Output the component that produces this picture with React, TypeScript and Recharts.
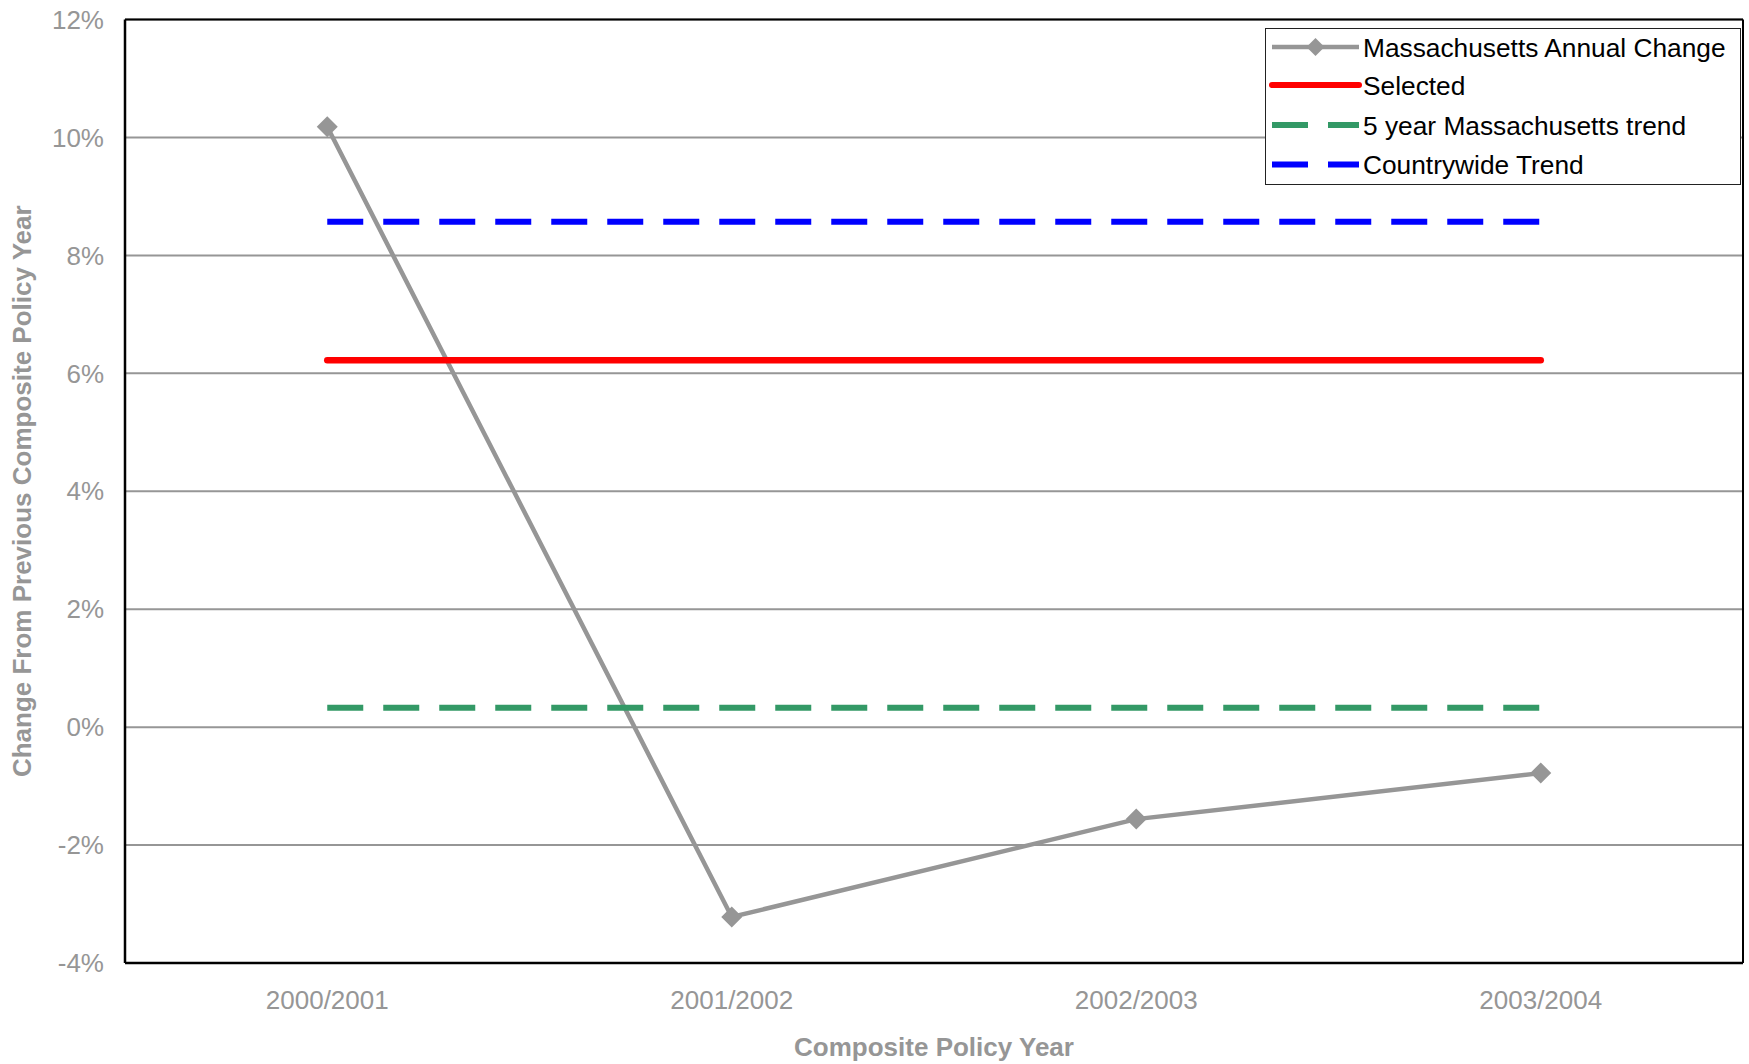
import React from 'react';
import { LineChart, Line, XAxis, YAxis, CartesianGrid, Legend } from 'recharts';

// Composite policy years on the category axis
const policyYears = ['2000/2001', '2001/2002', '2002/2003', '2003/2004'];

// Year-over-year change, in percent
const massachusettsAnnualChange = [10.18, -3.22, -1.56, -0.78];
const selectedTrend = [6.22, 6.22, 6.22, 6.22];
const fiveYearMassachusettsTrend = [0.33, 0.33, 0.33, 0.33];
const countrywideTrend = [8.57, 8.57, 8.57, 8.57];

const yTicks = [-4, -2, 0, 2, 4, 6, 8, 10, 12];

const seriesNames = {
  annual: 'Massachusetts Annual Change',
  selected: 'Selected',
  fiveYear: '5 year Massachusetts trend',
  countrywide: 'Countrywide Trend',
};
const legendOrder = [seriesNames.annual, seriesNames.selected, seriesNames.fiveYear, seriesNames.countrywide];

const rows = policyYears.map((year, i) => ({
  year,
  annual: massachusettsAnnualChange[i],
  selected: selectedTrend[i],
  fiveYear: fiveYearMassachusettsTrend[i],
  countrywide: countrywideTrend[i],
}));

const FONT = '"Liberation Sans", Arial, Helvetica, sans-serif';
const GREY = '#969696';
const RED = '#FF0000';
const GREEN = '#339966';
const BLUE = '#0000FF';

const W = 1749;
const H = 1064;
const PLOT_LEFT = 125;
const PLOT_TOP = 19.5;
const PLOT_RIGHT = 1743;
const PLOT_BOTTOM = 963;

const DIAMOND_HALF = 10.5;

const Diamond = (props: any) => {
  const { cx, cy } = props;
  if (cx == null || cy == null) return null;
  const r = DIAMOND_HALF;
  return (
    <polygon
      key={`d-${props.index}`}
      points={`${cx},${cy - r} ${cx + r},${cy} ${cx},${cy + r} ${cx - r},${cy}`}
      fill={GREY}
      stroke="none"
    />
  );
};

const legendStyles: Record<string, { color: string; width: number; dash?: string; round?: boolean; marker?: boolean }> = {
  [seriesNames.annual]: { color: GREY, width: 4.5, marker: true },
  [seriesNames.selected]: { color: RED, width: 6, round: true },
  [seriesNames.fiveYear]: { color: GREEN, width: 6, dash: '36 20' },
  [seriesNames.countrywide]: { color: BLUE, width: 6, dash: '36 20' },
};

const LegendBox = (props: any) => {
  const payload = [...(props.payload || [])].sort(
    (a: any, b: any) => legendOrder.indexOf(a.value) - legendOrder.indexOf(b.value)
  );
  const boxW = 476;
  const boxH = 157;
  const rowY = [19, 57, 97, 136.5];
  return (
    <svg width={boxW} height={boxH} style={{ display: 'block' }}>
      <rect x={0.5} y={0.5} width={boxW - 1} height={boxH - 1} fill="#fff" stroke="#222" strokeWidth={1} />
      {payload.map((entry: any, i: number) => {
        const st = legendStyles[entry.value];
        const y = rowY[i];
        return (
          <g key={entry.value}>
            <line
              x1={7}
              x2={94}
              y1={y}
              y2={y}
              stroke={st.color}
              strokeWidth={st.width}
              strokeDasharray={st.dash}
              strokeLinecap={st.round ? 'round' : 'butt'}
            />
            {st.marker && (
              <polygon points={`50.5,${y - 9} 59.5,${y} 50.5,${y + 9} 41.5,${y}`} fill={GREY} />
            )}
            <text x={98} y={y + 9.5} fontSize={26.3} fontFamily={FONT} fill="#000">
              {entry.value}
            </text>
          </g>
        );
      })}
    </svg>
  );
};

const YTitle = () => {
  const cy = (PLOT_TOP + PLOT_BOTTOM) / 2;
  return (
    <text
      x={22}
      y={cy}
      transform={`rotate(-90, 22, ${cy})`}
      textAnchor="middle"
      dominantBaseline="central"
      fontSize={26}
      fontWeight="bold"
      fontFamily={FONT}
      fill={GREY}
    >
      Change From Previous Composite Policy Year
    </text>
  );
};

const XTitle = () => {
  const cx = (PLOT_LEFT + PLOT_RIGHT) / 2;
  return (
    <text
      x={cx}
      y={1055.5}
      textAnchor="middle"
      fontSize={26}
      fontWeight="bold"
      fontFamily={FONT}
      fill={GREY}
    >
      Composite Policy Year
    </text>
  );
};

export default function App() {
  const categoryPad = (PLOT_RIGHT - PLOT_LEFT) / policyYears.length / 2;
  return (
    <div style={{ position: 'absolute', left: 0, top: 0, width: W, height: H, background: '#fff' }}>
      <LineChart
        width={W}
        height={H}
        data={rows}
        margin={{ top: PLOT_TOP, right: W - PLOT_RIGHT, bottom: 0, left: 0 }}
      >
        {/* horizontal gridlines every 2% */}
        <CartesianGrid vertical={false} stroke={GREY} strokeWidth={2} />
        {/* top and right edges of the plot frame */}
        <CartesianGrid
          horizontalPoints={[PLOT_TOP]}
          verticalPoints={[PLOT_RIGHT]}
          stroke="#000"
          strokeWidth={2}
        />
        <XAxis
          dataKey="year"
          type="category"
          height={H - PLOT_BOTTOM}
          padding={{ left: categoryPad, right: categoryPad }}
          axisLine={{ stroke: '#000', strokeWidth: 2.5 }}
          tickLine={false}
          tickSize={0}
          tickMargin={28}
          tick={{ fill: GREY, fontSize: 26, fontFamily: FONT }}
          interval={0}
          label={XTitle}
        />
        <YAxis
          domain={[-4, 12]}
          ticks={yTicks}
          width={PLOT_LEFT}
          axisLine={{ stroke: '#000', strokeWidth: 2.5 }}
          tickLine={false}
          tickSize={0}
          tickMargin={21}
          tickFormatter={(v: number) => `${v}%`}
          tick={{ fill: GREY, fontSize: 26, fontFamily: FONT }}
          allowDataOverflow
          label={YTitle}
        />
        <Legend
          layout="vertical"
          align="center"
          verticalAlign="middle"
          content={LegendBox}
          wrapperStyle={{ position: 'absolute', left: 1265, top: 28, width: 476, height: 157, margin: 0 }}
        />
        <Line
          dataKey="annual"
          name={seriesNames.annual}
          stroke={GREY}
          strokeWidth={4.5}
          dot={Diamond}
          activeDot={false}
          isAnimationActive={false}
        />
        <Line
          dataKey="selected"
          name={seriesNames.selected}
          stroke={RED}
          strokeWidth={6.5}
          strokeLinecap="round"
          dot={false}
          activeDot={false}
          isAnimationActive={false}
        />
        <Line
          dataKey="fiveYear"
          name={seriesNames.fiveYear}
          stroke={GREEN}
          strokeWidth={6}
          strokeDasharray="36 20"
          dot={false}
          activeDot={false}
          isAnimationActive={false}
        />
        <Line
          dataKey="countrywide"
          name={seriesNames.countrywide}
          stroke={BLUE}
          strokeWidth={6}
          strokeDasharray="36 20"
          dot={false}
          activeDot={false}
          isAnimationActive={false}
        />
      </LineChart>
    </div>
  );
}
